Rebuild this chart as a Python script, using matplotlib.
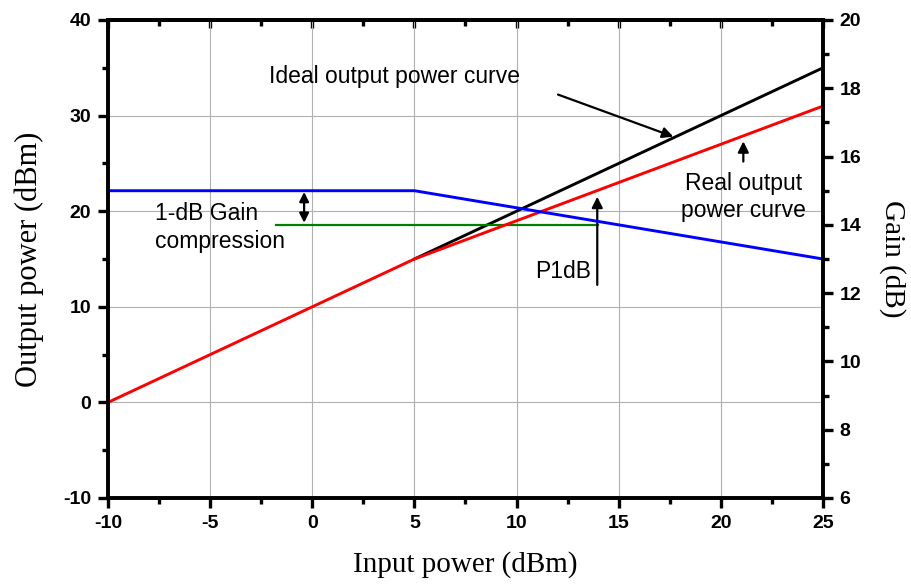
import numpy as np
import matplotlib
matplotlib.use('Agg')
import matplotlib.pyplot as plt
from matplotlib.ticker import MultipleLocator, NullFormatter

plt.rcParams['axes.unicode_minus'] = False

# data
ideal_x = [5, 25]
ideal_y = [15, 35]
real_x = [-10, 5, 25]
real_y = [0, 15, 31]
gain_x = [-10, 5, 25]
gain_db = [15, 15, 13]
comp_x = [-1.8, 14]
comp_y = [18.6, 18.6]

fig = plt.figure(figsize=(9.12, 5.85), dpi=100)
ax = fig.add_axes([108 / 912, 87 / 585, 715 / 912, 478 / 585])
ax2 = ax.twinx()

ax.plot(real_x, real_y, color='red', lw=2.1, zorder=3)
ax.plot(ideal_x, ideal_y, color='black', lw=2.1, zorder=2)
ax.plot(comp_x, comp_y, color='green', lw=1.6, zorder=2)
ax2.plot(gain_x, gain_db, color='blue', lw=2.1)

ax.set_xlim(-10, 25)
ax.set_ylim(-10, 40)
ax2.set_ylim(6, 20)

ax.xaxis.set_major_locator(MultipleLocator(5))
ax.xaxis.set_minor_locator(MultipleLocator(2.5))
ax.yaxis.set_major_locator(MultipleLocator(10))
ax.yaxis.set_minor_locator(MultipleLocator(5))
ax2.yaxis.set_major_locator(MultipleLocator(2))
ax2.yaxis.set_minor_locator(MultipleLocator(1))

ax.grid(True, which='major', color='#b0b0b0', lw=0.8)
ax.set_axisbelow(True)

# top ticks point inward, the others outward
top = ax.secondary_xaxis('top')
top.xaxis.set_major_locator(MultipleLocator(5))
top.xaxis.set_minor_locator(MultipleLocator(2.5))
top.xaxis.set_major_formatter(NullFormatter())
top.tick_params(which='major', direction='in', length=6, width=2.4)
top.tick_params(which='minor', direction='in', length=4, width=2.4)
top.spines['top'].set_linewidth(2.6)

for a in (ax, ax2):
    for s in a.spines.values():
        s.set_linewidth(2.6)
    a.tick_params(which='major', direction='out', length=7, width=2.4, labelsize=14, pad=5)
    a.tick_params(which='minor', direction='out', length=4, width=2.4)

for lab in ax.get_xticklabels() + ax.get_yticklabels() + ax2.get_yticklabels():
    lab.set_fontweight('bold')
    lab.set_family('Liberation Sans')

ax.set_xlabel('Input power (dBm)', family='Liberation Serif', fontsize=21, labelpad=14)
ax.set_ylabel('Output power (dBm)', family='Liberation Serif', fontsize=22, labelpad=14)
ax2.set_ylabel('Gain (dB)', family='Liberation Serif', fontsize=21, labelpad=13, rotation=270, va='bottom')

txt = dict(family='Liberation Sans', fontsize=16.5)
ax.text(-2.1, 34.1, 'Ideal output power curve', va='center', ha='left', **txt)
ax.annotate('', xy=(17.8, 27.7), xytext=(11.9, 32.3),
            arrowprops=dict(arrowstyle='-|>', color='black', lw=1.6, mutation_scale=16))
ax.text(21.1, 21.5, 'Real output\npower curve', va='center', ha='center', linespacing=1.25, **txt)
ax.annotate('', xy=(21.1, 27.6), xytext=(21.1, 24.9),
            arrowprops=dict(arrowstyle='-|>', color='black', lw=1.6, mutation_scale=16))
ax.text(-7.7, 18.3, '1-dB Gain\ncompression', va='center', ha='left', linespacing=1.25, **txt)
ax.annotate('', xy=(-0.4, 22.3), xytext=(-0.4, 18.5),
            arrowprops=dict(arrowstyle='<|-|>', color='black', lw=1.6, mutation_scale=14))
ax.text(12.27, 13.7, 'P1dB', va='center', ha='center', **txt)
ax.annotate('', xy=(13.95, 21.8), xytext=(13.95, 12.0),
            arrowprops=dict(arrowstyle='-|>', color='black', lw=1.6, mutation_scale=16))

fig.savefig('out.png', dpi=100)
